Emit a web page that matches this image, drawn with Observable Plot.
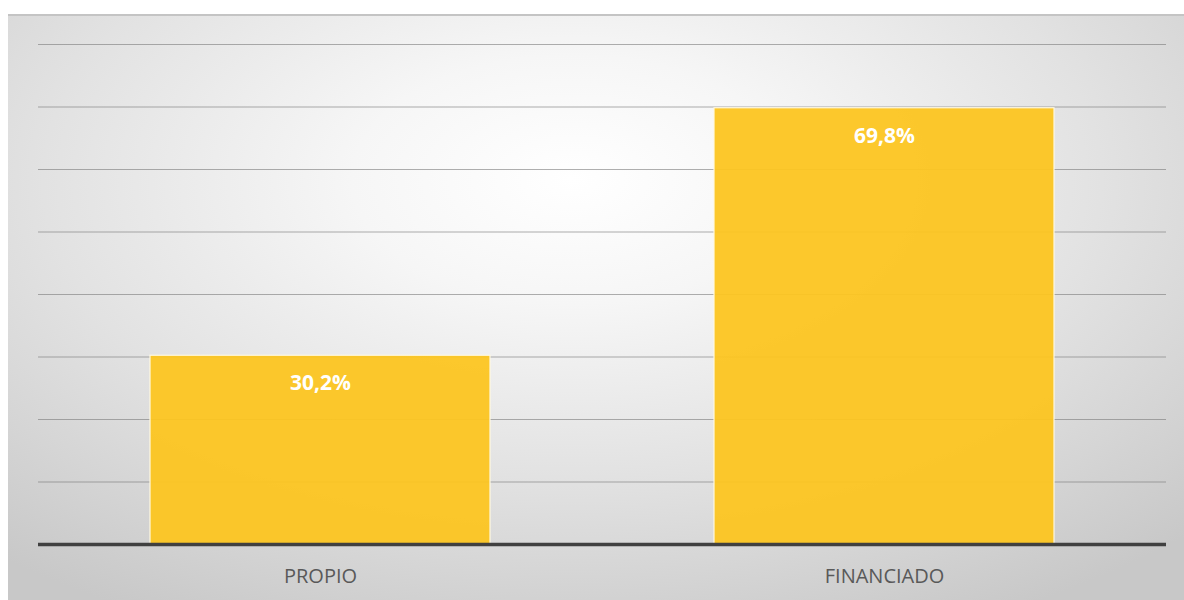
<!DOCTYPE html>
<html>
<head>
<meta charset="utf-8">
<script src="https://cdn.jsdelivr.net/npm/d3@7"></script>
<script src="https://cdn.jsdelivr.net/npm/@observablehq/plot@0.6"></script>
<style>
  html, body { margin: 0; padding: 0; background: #ffffff; width: 1184px; height: 600px; overflow: hidden; }
  #frame {
    position: absolute; left: 8px; top: 14px; width: 1176px; height: 586px;
    background: radial-gradient(ellipse 75% 85% at 48% 28%, #ffffff 0%, #f6f6f6 25%, #e2e2e2 60%, #c8c8c8 100%);
    border-top: 2px solid #c4c4c4;
    box-sizing: border-box;
  }
  #frame svg { position: absolute; left: 0; top: -2px; }
</style>
</head>
<body>
<div id="frame"></div>
<script>
const categories = ["PROPIO", "FINANCIADO"];
const values = [30.2, 69.8];
const labels = ["30,2%", "69,8%"];
const gridTicks = [10, 20, 30, 40, 50, 60, 70, 80];

const data = categories.map((c, i) => ({cat: c, value: values[i], label: labels[i]}));

const chart = Plot.plot({
  width: 1176,
  height: 586,
  marginLeft: 30,
  marginRight: 18,
  marginTop: 30,
  marginBottom: 56,
  style: {background: "transparent", fontFamily: "'Open Sans', 'Noto Sans', sans-serif"},
  x: {domain: categories, paddingInner: 0.397, paddingOuter: 0.1985, label: null},
  y: {domain: [0, 80], axis: null},
  marks: [
    Plot.ruleY(gridTicks, {stroke: "#7a7a7a", strokeOpacity: 0.6, strokeWidth: 1.2}),
    Plot.barY(data, {x: "cat", y: "value", fill: "#fcc521", fillOpacity: 0.95, stroke: "#fff8e0", strokeWidth: 1.2}),
    Plot.ruleY([0], {stroke: "#404040", strokeWidth: 3.5}),
    Plot.text(data, {x: "cat", y: "value", text: "label", dy: 28, fill: "#ffffff", fontWeight: "bold", fontSize: 21}),
    Plot.axisX({tickSize: 0, tickPadding: 24, fontSize: 20, color: "#595959", label: null})
  ]
});
document.getElementById("frame").appendChild(chart);
</script>
</body>
</html>
